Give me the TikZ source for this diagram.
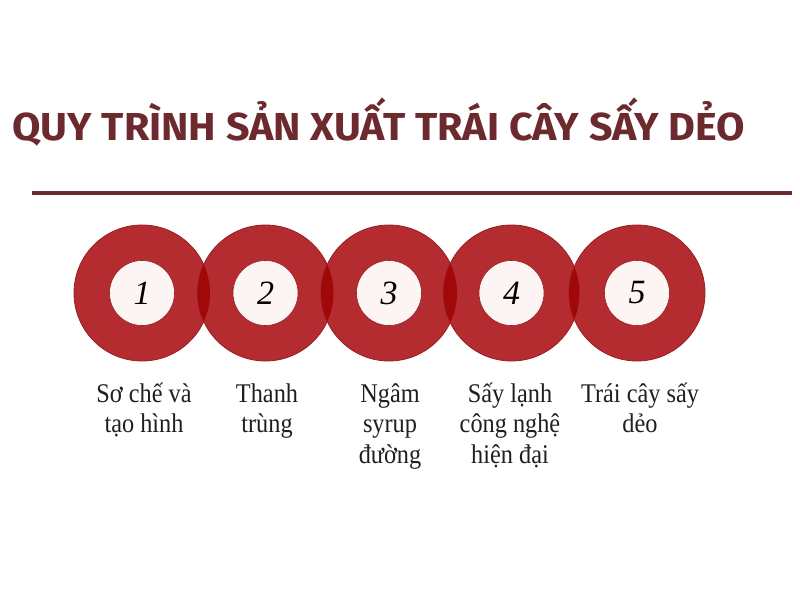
\documentclass[tikz,border=0pt]{standalone}
\usepackage{fontspec}
\setmainfont{Liberation Serif}
\newfontfamily\titlefont{Fira Sans Bold}
\newfontfamily\labelfont[FakeStretch=0.9]{Liberation Serif}
\newfontfamily\numfont{Liberation Serif Italic}
\definecolor{ringred}{RGB}{180,44,48}
\definecolor{ringedge}{RGB}{150,30,34}
\definecolor{lensred}{RGB}{160,8,10}
\definecolor{maroon}{RGB}{108,42,46}
\definecolor{innerw}{RGB}{253,245,243}
\definecolor{labelc}{RGB}{34,30,30}
\newcommand{\firststrut}{\rule{0pt}{26pt}}
\tikzset{
  ring/.style={circle,fill=ringred,draw=ringedge,line width=0.8pt,minimum size=136pt,inner sep=0pt},
  hole/.style={circle,fill=innerw,draw=ringedge,line width=0.6pt,minimum size=65pt,inner sep=0pt,
    font=\numfont\fontsize{34}{34}\selectfont,text=black},
  steplabel/.style={align=center,anchor=north,inner sep=0pt,font=\labelfont\fontsize{27}{30.5}\selectfont,text=labelc},
}
\begin{document}
\begin{tikzpicture}[x=1pt,y=-1pt]
\useasboundingbox[fill=white] (0,0) rectangle (800,600);
% title
\node[anchor=base west,inner sep=0pt,text=maroon] (title) at (12,140)
  {\resizebox{733pt}{\height}{\titlefont\fontsize{39}{39}\selectfont QUY TRÌNH SẢN XUẤT TRÁI CÂY SẤY DẺO}};
\coordinate (ls) at (32,193);
\coordinate (le) at (792,193);
\draw[maroon,line width=4.5pt] (ls) -- (le);
% rings
\foreach \i/\x in {1/142,2/265.5,3/389,4/511.5,5/637}{
  \node[ring] (r\i) at (\x,293) {};
}
% lenses
\foreach \a/\b in {1/2,2/3,3/4,4/5}{
  \begin{scope}
    \clip (r\a.center) circle (68pt);
    \fill[lensred] (r\b.center) circle (68pt);
  \end{scope}
}
% holes
\foreach \i in {1,...,5}{
  \node[hole] (h\i) at (r\i.center) {\i};
}
% labels (first baseline at y=402)
\node[steplabel] (l1) at (144,376) {\firststrut Sơ chế và\\tạo hình};
\node[steplabel] (l2) at (267,376) {\firststrut Thanh\\trùng};
\node[steplabel] (l3) at (390,376) {\firststrut Ngâm\\syrup\\đường};
\node[steplabel] (l4) at (510,376) {\firststrut Sấy lạnh\\công nghệ\\hiện đại};
\node[steplabel] (l5) at (640,376) {\firststrut Trái cây sấy\\dẻo};
\end{tikzpicture}
\end{document}
